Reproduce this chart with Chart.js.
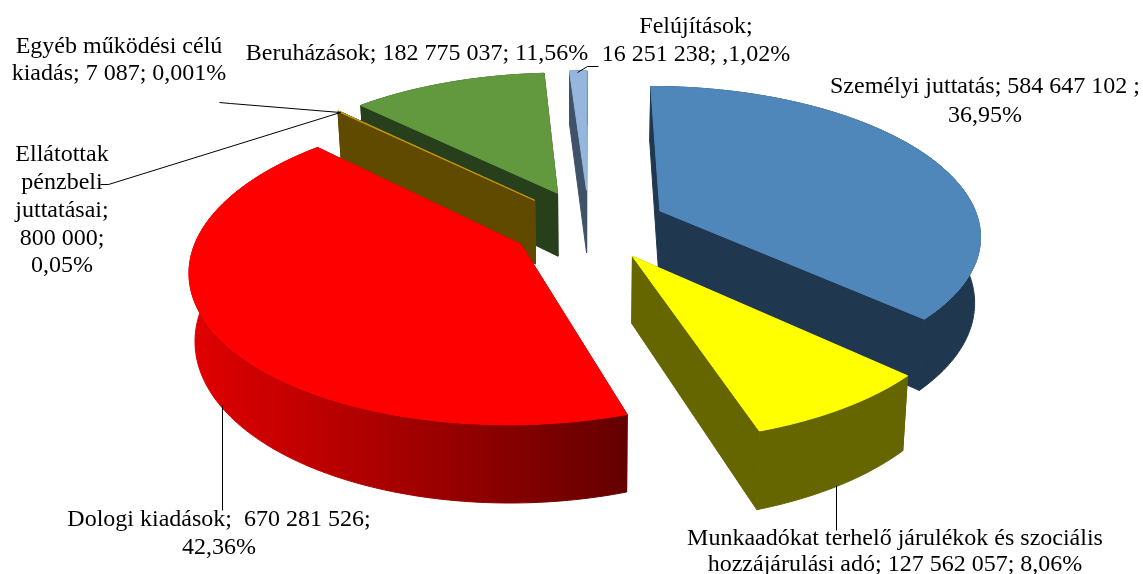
<!DOCTYPE html>
<html lang="hu">
<head>
<meta charset="utf-8">
<title>Kiadások</title>
<script src="https://cdn.jsdelivr.net/npm/chart.js@4"></script>
<style>
    html, body { margin: 0; padding: 0; background: #fff; }
    canvas { display: block; }
</style>
</head>
<body>
<canvas id="pieChart" width="1143" height="574"></canvas>
<script>
// Chart data
const categories = [
    'Személyi juttatás',
    'Munkaadókat terhelő járulékok és szociális hozzájárulási adó',
    'Dologi kiadások',
    'Ellátottak pénzbeli juttatásai',
    'Egyéb működési célú kiadás',
    'Beruházások',
    'Felújítások'
];
const amounts = [584647102, 127562057, 670281526, 800000, 7087, 182775037, 16251238];

// Slice colours, same order as the data
const topColors = ['#4f87ba', '#ffff00', '#ff0000', '#c89600', '#4f81bd', '#62993e', '#95b7de'];
const wallColors = ['#20384f', '#666600', '#8c0000', '#604a00', '#604a00', '#283f1b', '#3f5268'];

// Back to front, so nearer slices cover the ones behind them
const drawOrder = [6, 5, 4, 3, 2, 0, 1];

// Label text as it is broken into lines in the picture
const labelLines = [
    { text: 'Egyéb működési célú', x: 119, y: 53 },
    { text: 'kiadás; 7 087; 0,001%', x: 119, y: 80 },
    { text: 'Beruházások; 182 775 037; 11,56%', x: 417, y: 60 },
    { text: 'Felújítások;', x: 696, y: 33 },
    { text: '16 251 238; ,1,02%', x: 696, y: 61 },
    { text: 'Személyi juttatás; 584 647 102 ;', x: 985, y: 93 },
    { text: '36,95%', x: 985, y: 122 },
    { text: 'Ellátottak', x: 62, y: 161 },
    { text: 'pénzbeli', x: 62, y: 189 },
    { text: 'juttatásai;', x: 62, y: 217 },
    { text: '800 000;', x: 62, y: 245 },
    { text: '0,05%', x: 62, y: 272 },
    { text: 'Dologi kiadások;  670 281 526;', x: 219, y: 526 },
    { text: '42,36%', x: 219, y: 554 },
    { text: 'Munkaadókat terhelő járulékok és szociális', x: 895, y: 545 },
    { text: 'hozzájárulási adó; 127 562 057; 8,06%', x: 895, y: 571 }
];

const leaderLines = [
    [[219, 102], [230, 103], [340, 112]],
    [[100, 184], [108, 184], [340, 112]],
    [[836, 485], [836, 530]],
    [[222, 405], [222, 510]],
    [[577, 72], [587, 66], [598, 66]]
];

// The 3D look: ground plane seen from above with some perspective
const view = { cx: 589, cy: 225, rx: 320, ry: 147, tilt: 0.15, explode: 0.245, depth: 65, shrink: 0.015 };

function project(u, v, z) {
    const w = 1 - view.tilt * v;
    const f = 1 - view.shrink * z;
    return {
        x: view.cx + view.rx * u / w * f,
        y: view.cy + view.ry * v / w + z * view.depth / w
    };
}

function fillPolygon(ctx, points, color) {
    ctx.beginPath();
    points.forEach((p, i) => {
        if (i === 0) ctx.moveTo(p.x, p.y);
        else ctx.lineTo(p.x, p.y);
    });
    ctx.closePath();
    ctx.fillStyle = color;
    ctx.fill();
    ctx.strokeStyle = color;
    ctx.lineWidth = 1;
    ctx.stroke();
}

function drawSlice(ctx, arc, index) {
    const mid = (arc.startAngle + arc.endAngle) / 2;
    const ox = Math.cos(mid) * view.explode;
    const oy = Math.sin(mid) * view.explode;
    const steps = Math.max(2, Math.ceil((arc.endAngle - arc.startAngle) / 0.02));

    const rim = (z) => {
        const points = [];
        for (let i = 0; i <= steps; i++) {
            const a = arc.startAngle + (arc.endAngle - arc.startAngle) * i / steps;
            points.push(project(ox + Math.cos(a), oy + Math.sin(a), z));
        }
        return points;
    };

    const topRim = rim(0);
    const bottomRim = rim(1);
    const apexTop = project(ox, oy, 0);
    const apexBottom = project(ox, oy, 1);

    let wall = wallColors[index];
    if (index === 2) {
        const shade = ctx.createLinearGradient(195, 0, 627, 0);
        shade.addColorStop(0, '#e00000');
        shade.addColorStop(1, '#640000');
        wall = shade;
    }

    // cut faces first, then the outer wall, then the top
    fillPolygon(ctx, [apexTop, topRim[0], bottomRim[0], apexBottom], wall);
    fillPolygon(ctx, [apexTop, topRim[steps], bottomRim[steps], apexBottom], wall);
    fillPolygon(ctx, topRim.concat(bottomRim.slice().reverse()), wall);
    fillPolygon(ctx, [apexTop].concat(topRim), topColors[index]);
}

const pie3dPlugin = {
    id: 'pie3d',
    beforeDatasetDraw(chart, args) {
        const ctx = chart.ctx;
        const arcs = chart.getDatasetMeta(args.index).data;
        ctx.save();
        drawOrder.forEach((i) => drawSlice(ctx, arcs[i], i));
        ctx.restore();
        return false;
    },
    afterDraw(chart) {
        const ctx = chart.ctx;
        ctx.save();
        ctx.strokeStyle = '#000';
        ctx.lineWidth = 1;
        leaderLines.forEach((line) => {
            ctx.beginPath();
            line.forEach((p, i) => {
                if (i === 0) ctx.moveTo(p[0] + 0.5, p[1] + 0.5);
                else ctx.lineTo(p[0] + 0.5, p[1] + 0.5);
            });
            ctx.stroke();
        });
        ctx.fillStyle = '#000';
        ctx.font = '24px "Liberation Serif"';
        ctx.textAlign = 'center';
        ctx.textBaseline = 'alphabetic';
        labelLines.forEach((l) => ctx.fillText(l.text, l.x, l.y));
        ctx.restore();
    }
};

new Chart(document.getElementById('pieChart'), {
    type: 'pie',
    data: {
        labels: categories,
        datasets: [{ data: amounts, backgroundColor: topColors, borderWidth: 0 }]
    },
    options: {
        responsive: false,
        animation: false,
        rotation: 0,
        plugins: {
            legend: { display: false },
            tooltip: { enabled: false }
        }
    },
    plugins: [pie3dPlugin]
});
</script>
</body>
</html>
